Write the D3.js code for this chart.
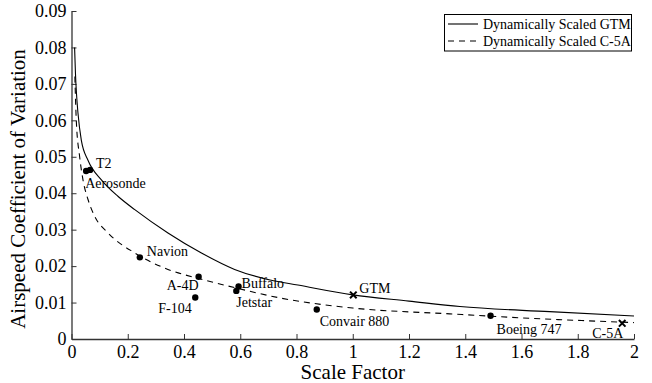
<!DOCTYPE html>
<html>
<head>
<meta charset="utf-8">
<script src="https://cdn.jsdelivr.net/npm/d3@7"></script>
<style>
  html, body { margin: 0; padding: 0; background: #fff; }
  svg { display: block; }
</style>
</head>
<body>
<svg id="chart" width="652" height="383"></svg>
<script>
// ---- data ----
const xTicks = [0, 0.2, 0.4, 0.6, 0.8, 1, 1.2, 1.4, 1.6, 1.8, 2];
const yTicks = [0, 0.01, 0.02, 0.03, 0.04, 0.05, 0.06, 0.07, 0.08, 0.09];

// Dynamically Scaled GTM (solid)
const gtmX = [0.011, 0.014, 0.018, 0.023, 0.035, 0.059, 0.107, 0.166, 0.225, 0.343, 0.462, 0.58, 0.706, 0.805, 1.0, 1.2, 1.381, 1.7, 2.0];
const gtmY = [0.080, 0.073, 0.067, 0.062, 0.0545, 0.049, 0.0436, 0.0391, 0.0355, 0.0291, 0.0236, 0.0191, 0.0162, 0.0148, 0.0121, 0.0104, 0.0089, 0.0075, 0.0063];

// Dynamically Scaled C-5A (dashed)
const c5aX = [0.012, 0.017, 0.029, 0.041, 0.059, 0.083, 0.13, 0.225, 0.343, 0.462, 0.58, 0.746, 1.0, 1.345, 1.6, 2.0];
const c5aY = [0.072, 0.060, 0.050, 0.0436, 0.0382, 0.0336, 0.0291, 0.0236, 0.0191, 0.0164, 0.0141, 0.0112, 0.0085, 0.0069, 0.0058, 0.0045];

// Aircraft points
const aircraftNames = ["Aerosonde", "T2", "Navion", "A\u20114D", "F-104", "Buffalo", "Jetstar", "Convair 880", "Boeing 747"];
const aircraftX = [0.052, 0.066, 0.243, 0.452, 0.440, 0.594, 0.586, 0.872, 1.49];
const aircraftY = [0.0461, 0.0464, 0.0224, 0.0171, 0.0114, 0.0144, 0.0132, 0.0081, 0.0064];

// Reference designs (x markers)
const refNames = ["GTM", "C-5A"];
const refX = [1.002, 1.958];
const refY = [0.0121, 0.0043];

const legendLabels = ["Dynamically Scaled GTM", "Dynamically Scaled C-5A"];

// ---- layout ----
const FONT = "Liberation Serif";
const svg = d3.select("#chart");
const x = d3.scaleLinear().domain([0, 2]).range([71.5, 634]);
const y = d3.scaleLinear().domain([0, 0.09]).range([339, 11]);
const fmt = d3.format("~g");
const axisColor = "#333";

// axes
const gx = svg.append("g").attr("transform", `translate(0,${y(0)})`)
  .call(d3.axisBottom(x).tickValues(xTicks).tickFormat(fmt).tickSizeInner(-5).tickSizeOuter(0).tickPadding(6));
const gy = svg.append("g").attr("transform", `translate(${x(0)},0)`)
  .call(d3.axisLeft(y).tickValues(yTicks).tickFormat(fmt).tickSizeInner(-5).tickSizeOuter(0).tickPadding(5));
[gx, gy].forEach(g => {
  g.attr("font-family", null).attr("font-size", null);
  g.select(".domain").attr("stroke", axisColor).attr("stroke-width", 1.3);
  g.selectAll(".tick line").attr("stroke", axisColor).attr("stroke-width", 1);
  g.selectAll(".tick text").attr("fill", "#000").style("font-family", FONT).style("font-size", "18px");
});

// axis titles
svg.append("text").attr("x", x(1)).attr("y", 379).attr("text-anchor", "middle")
  .style("font-family", FONT).style("font-size", "21px").text("Scale Factor");
svg.append("text").attr("transform", `translate(25,${(y(0) + y(0.09)) / 2 + 14}) rotate(-90)`)
  .attr("text-anchor", "middle").style("font-family", FONT).style("font-size", "21px")
  .text("Airspeed Coefficient of Variation");

// curves
const line = d3.line().x(d => x(d[0])).y(d => y(d[1])).curve(d3.curveMonotoneX);
const gtm = gtmX.map((v, i) => [v, gtmY[i]]);
const c5a = c5aX.map((v, i) => [v, c5aY[i]]);
svg.append("path").datum(gtm).attr("d", line).attr("fill", "none").attr("stroke", "#000").attr("stroke-width", 1.1);
svg.append("path").datum(c5a).attr("d", line).attr("fill", "none").attr("stroke", "#000").attr("stroke-width", 1.1)
  .attr("stroke-dasharray", "6,5");

// aircraft dots
svg.append("g").selectAll("circle").data(aircraftX).join("circle")
  .attr("cx", d => x(d)).attr("cy", (d, i) => y(aircraftY[i])).attr("r", 3.2).attr("fill", "#000");

// x markers
const xm = svg.append("g");
refX.forEach((v, i) => {
  const cx = x(v), cy = y(refY[i]), s = 3.3;
  xm.append("path").attr("d", `M${cx - s},${cy - s}L${cx + s},${cy + s}M${cx - s},${cy + s}L${cx + s},${cy - s}`)
    .attr("stroke", "#000").attr("stroke-width", 2);
});

// point labels (offsets in pixels from the marker)
const labelOffsets = {
  "Aerosonde": [-1, 17], "T2": [6, -2], "Navion": [7, -1], "A\u20114D": [-32, 13], "F-104": [-37, 16],
  "Buffalo": [3, 1], "Jetstar": [0, 16], "Convair 880": [3, 17], "Boeing 747": [6, 18],
  "GTM": [6, -2], "C-5A": [-30, 15]
};
const allNames = aircraftNames.concat(refNames);
const allX = aircraftX.concat(refX);
const allY = aircraftY.concat(refY);
svg.append("g").selectAll("text").data(allNames).join("text")
  .attr("x", (d, i) => x(allX[i]) + labelOffsets[d][0])
  .attr("y", (d, i) => y(allY[i]) + labelOffsets[d][1])
  .style("font-family", FONT).style("font-size", "14px").text(d => d);

// legend
const lg = svg.append("g");
lg.append("rect").attr("x", 444.5).attr("y", 14.5).attr("width", 187).attr("height", 36.5)
  .attr("fill", "#fff").attr("stroke", "#000").attr("stroke-width", 1);
legendLabels.forEach((t, i) => {
  const ly = 24 + i * 17;
  lg.append("line").attr("x1", 448).attr("x2", 478).attr("y1", ly).attr("y2", ly)
    .attr("stroke", "#000").attr("stroke-width", 1.1).attr("stroke-dasharray", i === 1 ? "6,5" : null);
  lg.append("text").attr("x", 483).attr("y", ly + 5).style("font-family", FONT).style("font-size", "14px").text(t);
});
</script>
</body>
</html>
